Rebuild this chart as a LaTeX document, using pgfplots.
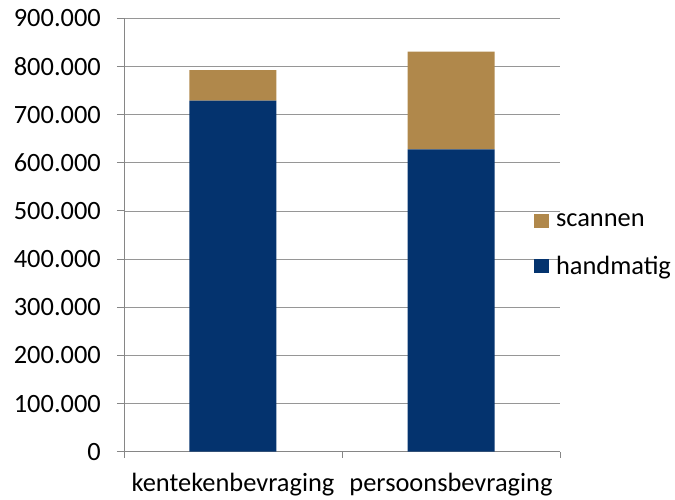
\documentclass[border=0pt]{standalone}
\usepackage{pgfplots}
\pgfplotsset{compat=1.18}
\usepackage{fontspec}
\setmainfont{Carlito}
\definecolor{navyb}{RGB}{4,51,110}
\definecolor{scancol}{RGB}{176,136,75}
\definecolor{axgray}{RGB}{134,134,134}
\definecolor{gridgray}{RGB}{150,150,150}
\begin{document}
\begin{tikzpicture}
\begin{axis}[
 scale only axis, width=436bp, height=433.4bp,
 xmin=0, xmax=2, ymin=0, ymax=900000,
 ybar stacked, bar width=87bp,
 axis x line*=bottom, axis y line*=left,
 axis line style={axgray, line width=0.9bp},
 xtick={0.5,1.5}, xticklabels={kentekenbevraging, persoonsbevraging},
 minor xtick={0,1,2},
 major x tick style={draw=none},
 minor x tick style={axgray, line width=0.9bp},
 ytick={0,100000,200000,300000,400000,500000,600000,700000,800000,900000},
 y tick style={axgray, line width=0.9bp},
 tick align=outside,
 major tick length=7bp, minor tick length=6bp,
 ymajorgrids, grid style={gridgray, line width=0.8bp},
 scaled y ticks=false,
 /pgf/number format/fixed,
 /pgf/number format/1000 sep={.},
 /pgf/number format/assume math mode=true,
 tick label style={font=\fontsize{26.5}{31}\selectfont, text=black},
 yticklabel style={inner sep=0pt, xshift=-16bp},
 xticklabel style={inner sep=0pt, yshift=-14bp},
 reverse legend,
 legend style={at={(rel axis cs:0.940,0.4765)}, anchor=west, draw=none, fill=none,
   font=\fontsize{26.5}{31}\selectfont, inner sep=0pt, row sep=28bp,
   nodes={inner sep=0pt}},
 legend cell align=left,
 legend image code/.code={\fill[#1] (0bp,-7bp) rectangle (15bp,7bp); \path (22bp,0bp);},
]
\addplot[fill=navyb, draw=none] coordinates {(0.5,729000) (1.5,628000)};
\addplot[fill=scancol, draw=none] coordinates {(0.5,63500) (1.5,203000)};
\legend{handmatig, scannen}
\end{axis}
\path (current axis.south west) ++(-124bp,-48.3bp) rectangle ++(675bp,500bp);
\end{tikzpicture}
\end{document}
